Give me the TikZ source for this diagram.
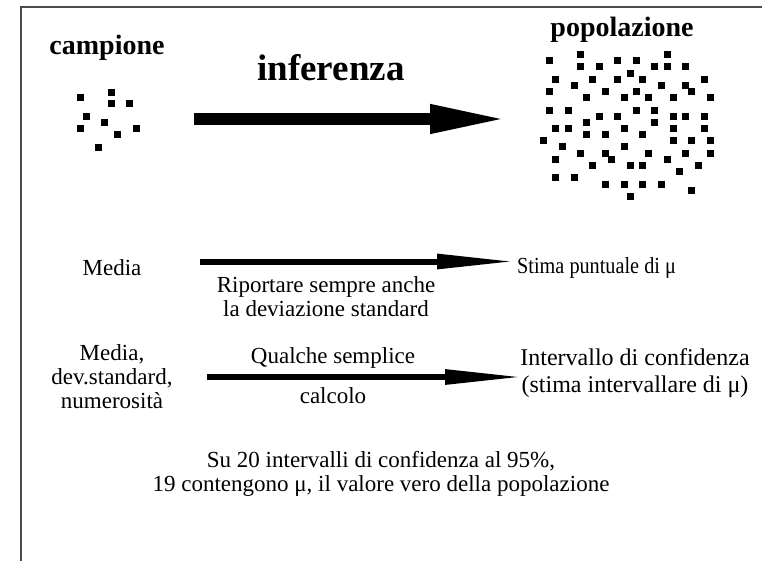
\documentclass[tikz,border=0pt]{standalone}
\usepackage{fontspec}
\setmainfont{Liberation Serif}
\usetikzlibrary{arrows.meta}
\begin{document}
\begin{tikzpicture}[x=1pt,y=-1pt,
  title/.style={font=\bfseries\fontsize{28}{30}\selectfont, inner sep=0pt},
  txt/.style={font=\fontsize{23}{24}\selectfont, inner sep=0pt, align=center},
  bigarrow/.style={line width=12.7pt, -{Triangle[length=80pt,width=26pt]}},
  smallarrow/.style={line width=6pt, -{Triangle[length=79pt,width=14pt]}},
  frameline/.style={draw=black!70, line width=1.3pt}]
\useasboundingbox (0,0) rectangle (762,560);
% frame (only left and top edges visible)
\draw[frameline] (21,570) -- (21,7) -- (772,7);

% titles
\node[title] (camp) at (107,48) {campione};
\node[title] (pop) at (622,30) {popolazione};
\node[title, font=\bfseries\fontsize{37}{40}\selectfont] (inf) at (331,68) {inferenza};

% sample dots
\foreach \px/\py in {80/97,111/92,111/103,129/103,86/116,104/122,80/128,136/128,117/134,98/147}
  \fill (\px-3.5,\py-3.5) rectangle ++(7,7);
% population dots
\foreach \px/\py in {580.7/54.3,667/54.3,549.3/60.7,617.3/60.7,636/60.7,580.7/66.3,599.3/66.3,654.7/66.3,667/66.3,685.7/66.3,
  630/73,555.7/79,592.7/79,617.3/79,642.7/79,704/79,574.3/85,661.3/85,685.7/85,
  549.3/91.3,605.3/91.3,636/91.3,691.7/91.3,586.7/97.3,624/97.3,648.3/97.3,673.3/97.3,710.3/97.3,
  549.3/110,568.3/110,636/110,654.7/110,599.3/116,617.3/116,673.3/116,685.7/116,704/116,
  586.7/122,654.7/122,555.7/128.3,568.3/128.3,624/128.3,673.3/128.3,704/128.3,
  586.7/134.3,605.3/134.3,642.7/134.3,543.3/140.7,673.3/140.7,691.7/140.7,710.3/140.7,
  562/146.7,624/146.7,580.7/153,605.3/153,648.3/153,685.7/153,710.3/153,
  555.7/159,611.3/159,667/159,592.7/165.3,630/165.3,642.7/165.3,698/165.3,679.3/171.3,
  555.7/177.7,574.3/177.7,605.3/184,624/184,642.7/184,661.3/184,691.7/190,630/196.3}
  \fill (\px-3.5,\py-3.5) rectangle ++(7,7);

% big arrow
\coordinate (a1s) at (194,119);
\coordinate (a1e) at (510,119);
\draw[bigarrow] (a1s) -- (a1e);

% row 2
\node[txt] (media) at (112,268) {Media};
\node[txt, anchor=west] (stima) at (517,268) {\scalebox{0.88}[1]{Stima puntuale di μ}};
\coordinate (a2s) at (200,261.5);
\coordinate (a2e) at (516,261.5);
\draw[smallarrow] (a2s) -- (a2e);
\node[txt] (ripo) at (326,297) {Riportare sempre anche\\la deviazione standard};

% row 3
\node[txt] (mds) at (112,377) {Media,\\dev.standard,\\numerosità};
\node[txt] (qual) at (333,358) {Qualche semplice};
\node[txt] (calc) at (333,396) {calcolo};
\node[txt, font=\fontsize{24}{27}\selectfont] (interv) at (635,373) {Intervallo di confidenza\\(stima intervallare di μ)};
\coordinate (a3s) at (207,377);
\coordinate (a3e) at (524,377);
\draw[smallarrow] (a3s) -- (a3e);

% bottom text
\node[txt] (su20) at (381,474) {Su 20 intervalli di confidenza al 95\%,\\19 contengono μ, il valore vero della popolazione};
\end{tikzpicture}
\end{document}
